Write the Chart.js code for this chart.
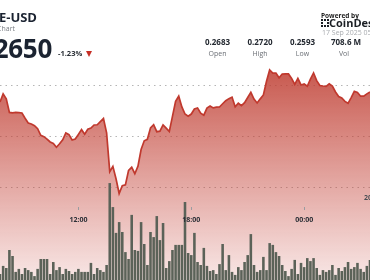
<!DOCTYPE html>
<html>
<head>
<meta charset="utf-8">
<script src="https://cdn.jsdelivr.net/npm/chart.js@4.4.1/dist/chart.umd.min.js"></script>
<style>
html, body { margin: 0; padding: 0; background: #fff; }
#wrap { position: relative; width: 370px; height: 280px; overflow: hidden; background: #fff; font-family: 'Open Sans', sans-serif; }
#chart { position: absolute; left: 0; top: 0; }
.t { position: absolute; white-space: nowrap; line-height: 1; }
.stat { position: absolute; width: 44px; text-align: center; line-height: 1; white-space: nowrap; }
.val { font-weight: 700; font-size: 8px; color: #232830; top: 38px; }
.lab { font-size: 7px; color: #6b6f75; top: 49.5px; }
</style>
</head>
<body>
<div id="wrap">
  <canvas id="chart" width="370" height="280"></canvas>

  <div class="t" style="right:333px; top:11px; font-weight:700; font-size:13px; color:#1b2331;">DOGE-USD</div>
  <div class="t" style="right:355px; top:24.5px; font-size:7px; color:#7a7e84;">Price Chart</div>
  <div class="t" style="right:318px; top:35px; font-weight:700; font-size:26px; color:#1b2331; letter-spacing:-0.3px;">0.2650</div>
  <div class="t" style="left:58px; top:49.5px; font-weight:700; font-size:7.5px; color:#2a2f36;">-1.23%</div>
  <div style="position:absolute; left:86px; top:51px; width:0; height:0; border-left:3.5px solid transparent; border-right:3.5px solid transparent; border-top:6px solid #c62f26;"></div>

  <div class="t" style="left:321px; top:12.5px; font-weight:700; font-size:6.5px; color:#222;">Powered by</div>
  <div style="position:absolute; left:321px; top:19px; width:4px; height:4px; border:2px dotted #1b1f24;"></div>
  <div class="t" style="left:329px; top:17px; font-weight:700; font-size:11px; color:#1b1f24;">CoinDesk</div>
  <div class="t" style="left:322px; top:29px; font-size:7px; color:#a9acb0;">17 Sep 2025 05:00</div>

  <div class="stat val" style="left:195.5px;">0.2683</div>
  <div class="stat lab" style="left:195.5px;">Open</div>
  <div class="stat val" style="left:238px;">0.2720</div>
  <div class="stat lab" style="left:238px;">High</div>
  <div class="stat val" style="left:280.5px;">0.2593</div>
  <div class="stat lab" style="left:280.5px;">Low</div>
  <div class="stat val" style="left:324px;">708.6 M</div>
  <div class="stat lab" style="left:322px;">Vol</div>

  <div class="t" style="left:364px; top:194px; font-weight:700; font-size:7px; color:#4a4e54;">20</div>
</div>

<script>
// 10 minute candles, start of the visible window
const times = [];
for (let k = 0, m = 7 * 60 + 50; k < 119; k++, m += 10) {
  const h = Math.floor(m / 60) % 24, mm = m % 60;
  times.push(String(h).padStart(2, '0') + ':' + String(mm).padStart(2, '0'));
}

const prices = [
  0.26843, 0.26922, 0.26875, 0.26741, 0.26736, 0.26742, 0.26739, 0.26735, 0.26684, 0.26637,
  0.26628, 0.26611, 0.26581, 0.26517, 0.26503, 0.26480, 0.26451, 0.26436, 0.26399, 0.26433,
  0.26472, 0.26539, 0.26523, 0.26471, 0.26480, 0.26525, 0.26572, 0.26527, 0.26576, 0.26587,
  0.26618, 0.26620, 0.26650, 0.26681, 0.26541, 0.26160, 0.26212, 0.26090, 0.25946, 0.26022,
  0.26031, 0.26172, 0.26203, 0.26140, 0.26214, 0.26377, 0.26463, 0.26477, 0.26588, 0.26621,
  0.26552, 0.26557, 0.26619, 0.26587, 0.26554, 0.26702, 0.26850, 0.26900, 0.26795, 0.26725,
  0.26704, 0.26725, 0.26775, 0.26785, 0.26734, 0.26714, 0.26783, 0.26803, 0.26785, 0.26792,
  0.26794, 0.26826, 0.26856, 0.26876, 0.26891, 0.26796, 0.26831, 0.26808, 0.26837, 0.26887,
  0.26938, 0.26871, 0.26834, 0.26874, 0.26912, 0.27046, 0.27157, 0.27127, 0.27127, 0.27080,
  0.27117, 0.27118, 0.27118, 0.27075, 0.27015, 0.27075, 0.27010, 0.27019, 0.26997, 0.27067,
  0.27128, 0.27052, 0.27005, 0.27000, 0.26996, 0.27021, 0.27000, 0.26941, 0.26896, 0.26882,
  0.26849, 0.26830, 0.26886, 0.26947, 0.26936, 0.26900, 0.26901, 0.26923, 0.26941
];

// volume per candle, millions
const volumes = [
  2.0, 4.7, 4.0, 10.0, 8.0, 2.7, 3.7, 2.0, 4.0, 3.3,
  2.7, 1.3, 3.7, 7.0, 7.0, 7.0, 2.0, 6.0, 3.3, 4.3,
  2.0, 3.7, 3.0, 2.0, 2.7, 3.7, 2.7, 2.7, 2.7, 5.7,
  2.0, 4.0, 3.3, 2.7, 5.0, 32.3, 24.3, 15.7, 19.3, 16.0,
  9.3, 7.0, 21.7, 10.0, 9.7, 19.3, 12.0, 5.0, 16.0, 14.3,
  21.3, 13.3, 19.0, 4.0, 6.3, 10.0, 11.7, 11.7, 11.7, 26.0,
  9.0, 8.3, 15.7, 6.0, 5.0, 10.7, 4.7, 3.0, 3.3, 2.0,
  5.3, 12.0, 3.3, 8.3, 2.7, 1.7, 4.3, 3.3, 6.0, 8.3,
  15.3, 5.0, 2.7, 3.3, 7.7, 3.3, 12.3, 11.7, 9.3, 8.0,
  5.0, 3.0, 1.3, 3.7, 6.7, 2.0, 5.7, 4.3, 7.3, 6.3,
  7.3, 4.0, 1.7, 3.3, 2.7, 3.3, 5.0, 1.7, 4.0, 3.0,
  4.3, 6.0, 3.7, 4.3, 5.7, 3.7, 2.7, 4.7, 6.7
];

const priceGrid = [0.26, 0.265, 0.27];
const timeTicks = ['12:00', '18:00', '00:00'];

const timeLabels = {
  id: 'timeLabels',
  afterDatasetsDraw(chart) {
    const { ctx, scales: { x } } = chart;
    ctx.save();
    timeTicks.forEach(t => {
      const px = x.getPixelForValue(times.indexOf(t));
      ctx.fillStyle = '#9a9ca0';
      ctx.fillRect(Math.round(px), 207, 1, 3);
      ctx.fillStyle = '#2b2f36';
      ctx.font = 'bold 7px "Open Sans"';
      ctx.textAlign = 'center';
      ctx.fillText(t, px, 222);
    });
    ctx.restore();
  }
};

const ctx = document.getElementById('chart').getContext('2d');

const chart = new Chart(ctx, {
  type: 'bar',
  plugins: [timeLabels],
  data: {
    labels: times,
    datasets: [{
      type: 'line',
      data: prices,
      yAxisID: 'y',
      order: 1,
      borderColor: '#c0392e',
      borderWidth: 1.7,
      pointRadius: 0,
      tension: 0,
      fill: 'start',
      backgroundColor: function (c) {
        const area = c.chart.chartArea;
        if (!area) return 'rgba(192,64,52,0.4)';
        const top = c.chart.scales.y.getPixelForValue(Math.max(...prices));
        const g = c.chart.ctx.createLinearGradient(0, top, 0, area.bottom);
        g.addColorStop(0, 'rgba(190,60,48,0.85)');
        g.addColorStop(1, 'rgba(200,70,60,0.13)');
        return g;
      }
    }, {
      type: 'bar',
      data: volumes,
      yAxisID: 'yv',
      order: 0,
      backgroundColor: '#5b6258',
      barPercentage: 0.82,
      categoryPercentage: 1
    }]
  },
  options: {
    responsive: false,
    animation: false,
    devicePixelRatio: 1,
    layout: { padding: 0 },
    plugins: {
      legend: { display: false },
      tooltip: { enabled: false }
    },
    scales: {
      x: {
        display: false,
        offset: false
      },
      y: {
        position: 'right',
        min: 0.25098,
        max: 0.27843,
        afterBuildTicks: s => { s.ticks = priceGrid.map(v => ({ value: v })) },
        afterFit: s => { s.width = 0 },
        ticks: { display: false },
        grid: { color: '#b5b5b5', drawTicks: false },
        border: { display: false, dash: [1.5, 4] }
      },
      yv: {
        display: false,
        min: 0,
        max: 93.3
      }
    }
  }
});
</script>
</body>
</html>
